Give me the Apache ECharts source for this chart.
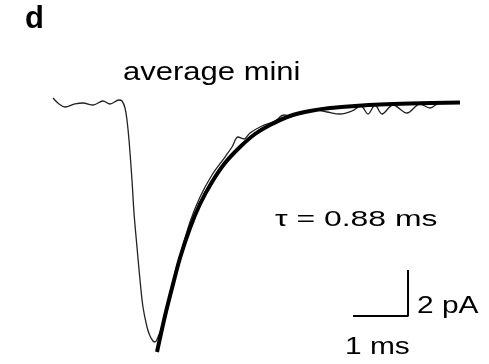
<!DOCTYPE html>
<html>
<head>
<meta charset="utf-8">
<script src="https://cdn.jsdelivr.net/npm/echarts@6/dist/echarts.min.js"></script>
<style>
  html, body { margin: 0; padding: 0; background: #fff; }
  #chart { width: 489px; height: 364px; }
</style>
</head>
<body>
<div id="chart"></div>
<script>
// average mini trace (time in ms, current in pA)
const traceT = [0, 0.109, 0.218, 0.4, 0.545, 0.727, 0.909, 1.036, 1.2, 1.255,
    1.309, 1.345, 1.382, 1.436, 1.473, 1.527, 1.582, 1.636, 1.709, 1.764, 1.818, 1.855, 1.909,
    2.036, 2.164, 2.309, 2.491, 2.673, 2.891, 3.127, 3.255, 3.364, 3.473, 3.582, 3.8, 4.036,
    4.2, 4.309, 4.491, 4.764, 4.982, 5.218, 5.436, 5.6, 5.727, 5.855, 5.982, 6.182, 6.436,
    6.673, 6.855, 7.036, 7.364];
const traceI = [0.13, -0.13, -0.26, -0.13, -0.087, -0.174, 0, -0.13, 0.043, 0,
    -0.304, -0.826, -1.696, -3.435, -4.87, -6.348, -7.783, -8.957, -9.826, -10.217, -10.435, -10.478, -10.261,
    -9.435, -8.217, -6.783, -5.261, -4.174, -3.217, -2.435, -2.0, -1.565, -1.652, -1.391, -1.087, -0.87,
    -0.609, -0.652, -0.522, -0.391, -0.478, -0.565, -0.435, -0.217, -0.565, -0.174, -0.565, -0.174, -0.522,
    -0.13, -0.304, -0.087, -0.087];

// exponential fit, tau = 0.88 ms
const fitT = [1.891, 2.036, 2.164, 2.309, 2.491, 2.673, 2.891, 3.127, 3.4, 3.673, 3.945, 4.309,
    4.673, 5.036, 5.491, 5.945, 6.491, 7.4];
const fitI = [-10.913, -9.348, -8.13, -6.826, -5.522, -4.478, -3.522, -2.696, -2.0, -1.435, -1.043, -0.652,
    -0.435, -0.304, -0.217, -0.152, -0.109, -0.065];

// scale bar: 1 ms, 2 pA
const barT = [5.455, 6.455, 6.455];
const barI = [-9.348, -9.348, -7.348];

const zip = (xs, ys) => xs.map((x, i) => [x, ys[i]]);

let chart = echarts.init(document.getElementById('chart'));

function label(text, x, y, size, sx, weight) {
    return {
        type: 'text', x: x, y: y, scaleX: sx,
        style: {
            text: text, x: 0, y: 0,
            font: (weight || 'normal') + ' ' + size + 'px "Liberation Sans", Arial, sans-serif',
            fill: '#000', verticalAlign: 'middle', align: 'left'
        }
    };
}

let option = {
    animation: false,
    backgroundColor: '#fff',
    grid: { left: 0, right: 0, top: 0, bottom: 0 },
    xAxis: { type: 'value', min: -53 / 55, max: (489 - 53) / 55, show: false },
    yAxis: { type: 'value', min: -(364 - 101) / 23, max: 101 / 23, show: false },
    graphic: [
        label('d', 25, 19, 31, 1, 'bold'),
        label('average mini', 123, 73, 25, 1.24),
        label('\u03c4 = 0.88 ms', 275, 220, 22, 1.45),
        label('2 pA', 417, 307, 23, 1.3),
        label('1 ms', 345, 348, 23, 1.3)
    ],
    series: [
        {
            name: 'trace',
            type: 'line',
            data: zip(traceT, traceI),
            symbol: 'none',
            smooth: 0.35,
            lineStyle: { color: '#222', width: 1.3 }
        },
        {
            name: 'fit',
            type: 'line',
            data: zip(fitT, fitI),
            symbol: 'none',
            smooth: 0.3,
            lineStyle: { color: '#000', width: 4 }
        },
        {
            name: 'scale',
            type: 'line',
            data: zip(barT, barI),
            symbol: 'none',
            lineStyle: { color: '#000', width: 2 }
        }
    ]
};

chart.setOption(option);
</script>
</body>
</html>
